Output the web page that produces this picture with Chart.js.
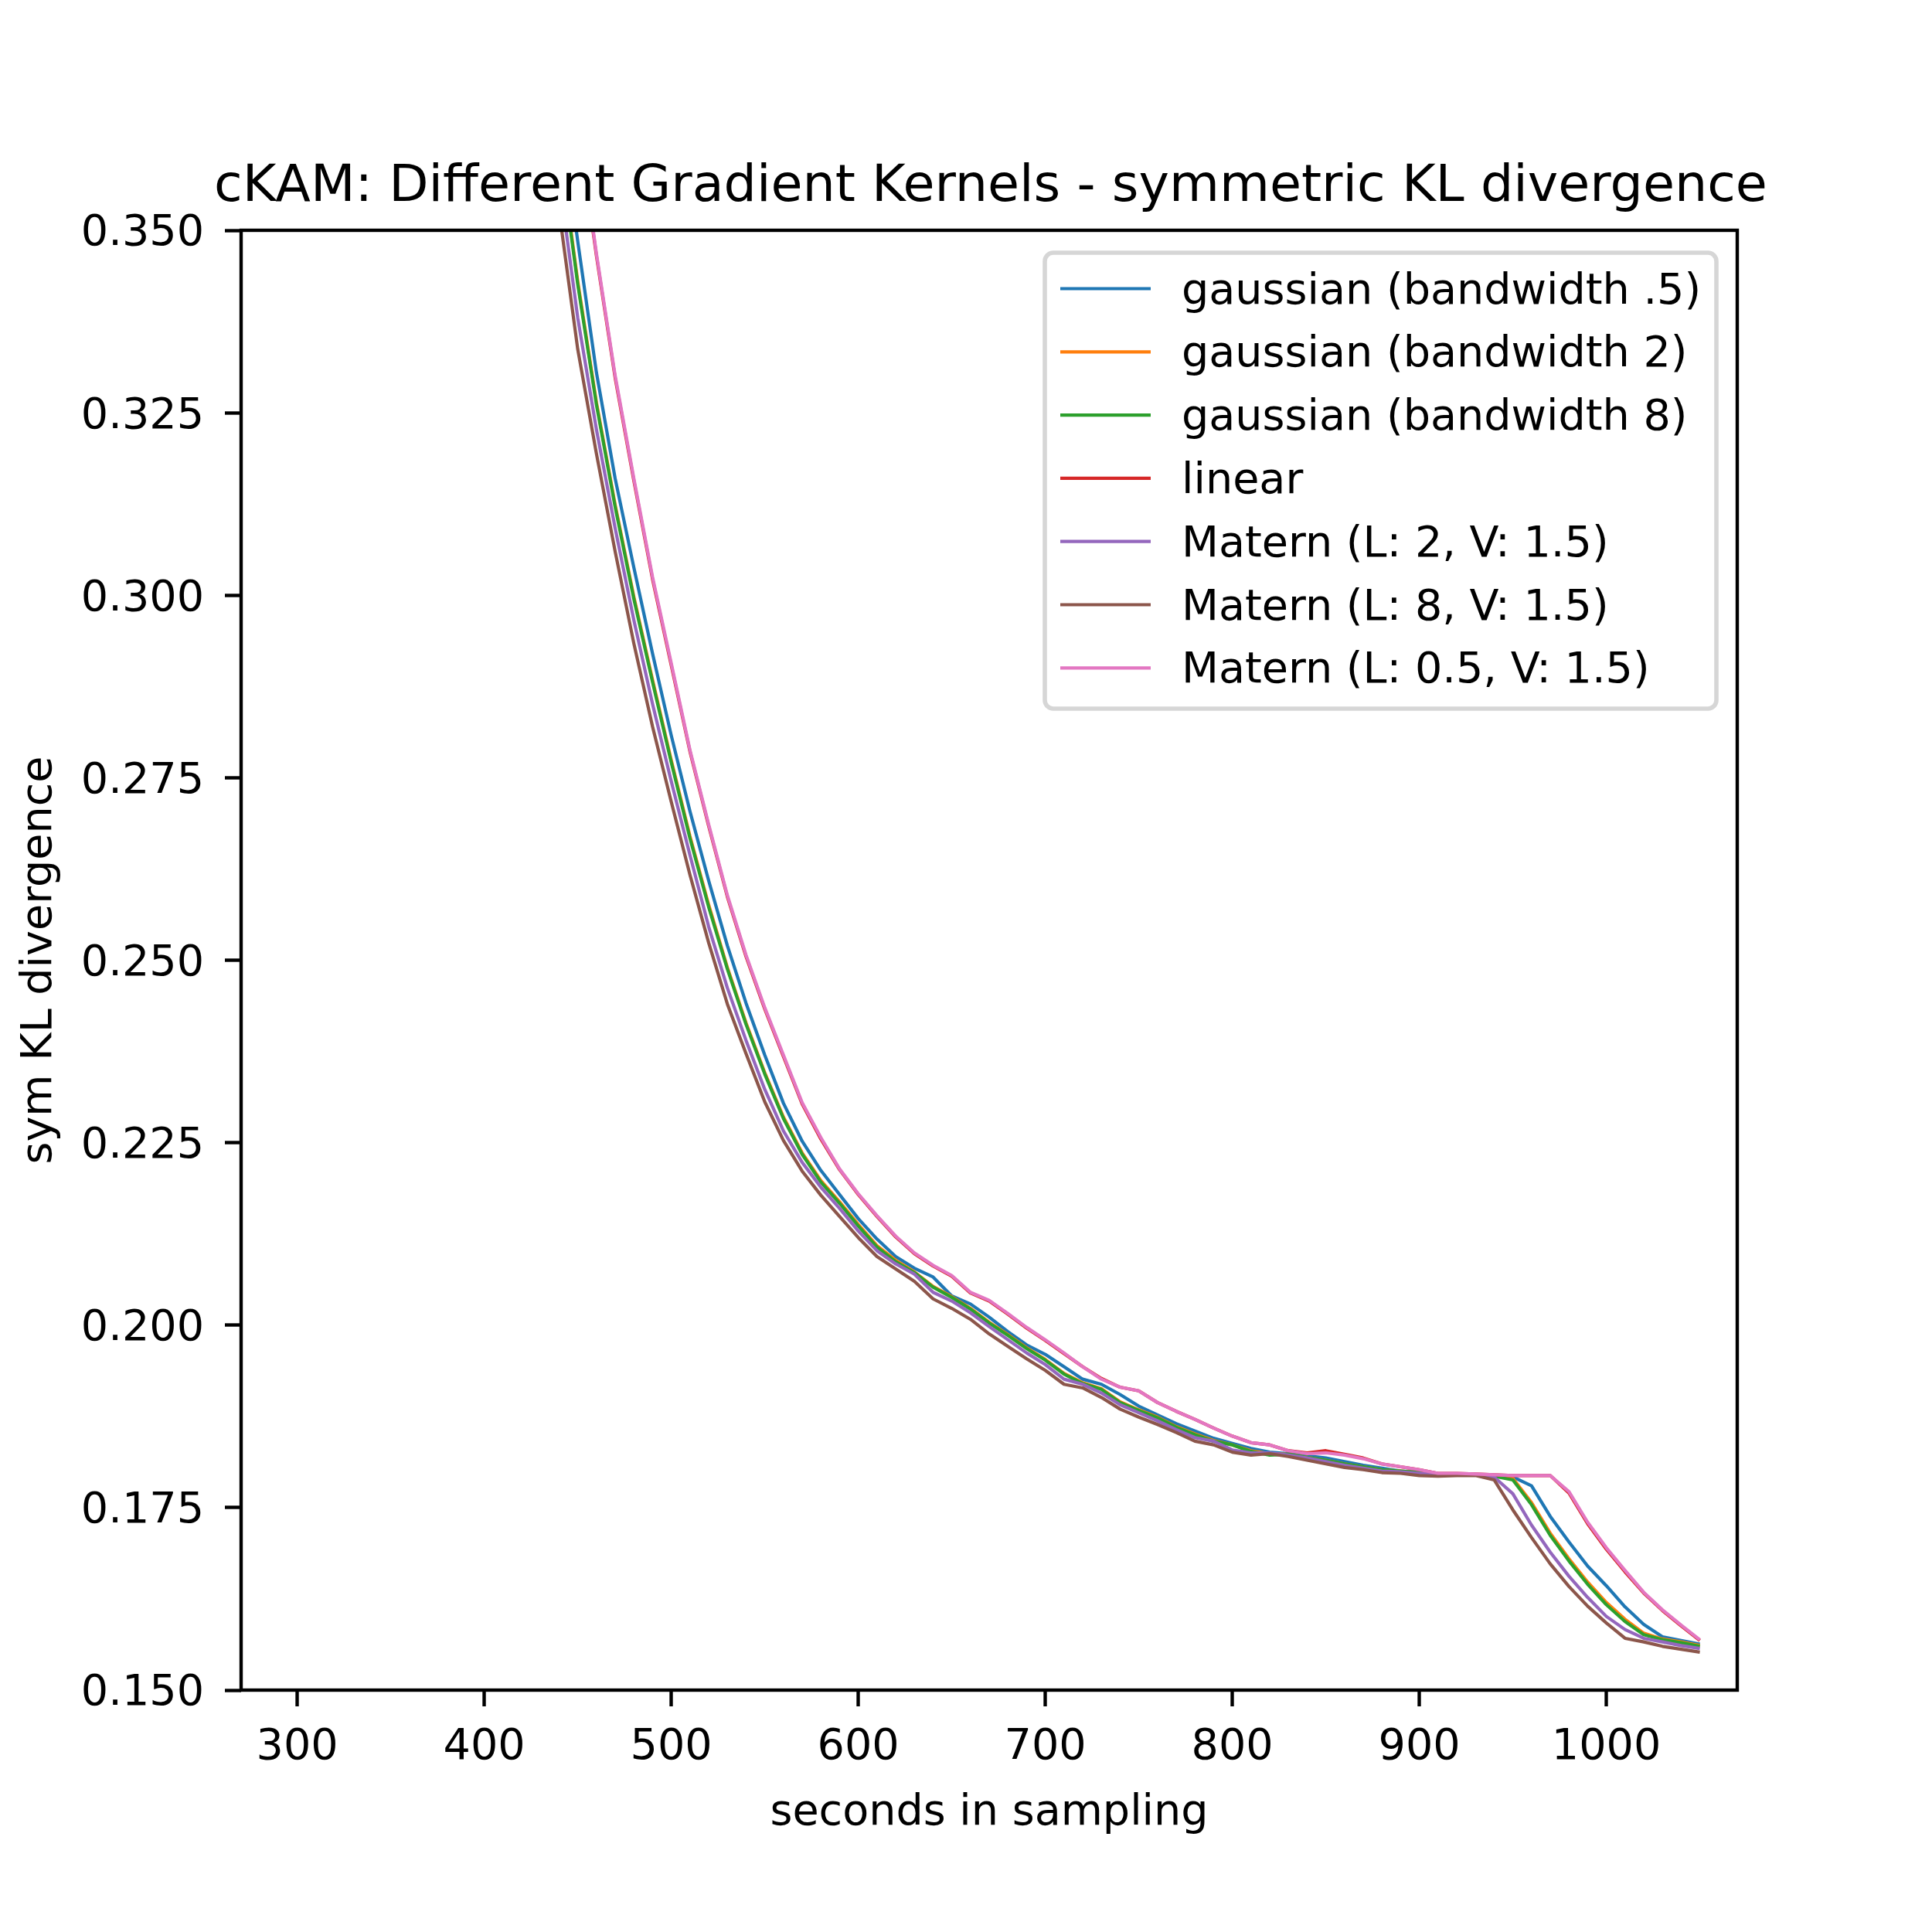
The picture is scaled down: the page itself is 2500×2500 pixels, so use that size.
<!DOCTYPE html>
<html>
<head>
<meta charset="utf-8">
<title>cKAM: Different Gradient Kernels - symmetric KL divergence</title>
<script src="https://cdn.jsdelivr.net/npm/chart.js@4"></script>
<style>
  html, body { margin: 0; padding: 0; background: #ffffff; }
  #chart { display: block; }
</style>
</head>
<body>
<canvas id="chart" width="2500" height="2500"></canvas>
<script>
// Symmetric KL divergence vs. sampling time for seven gradient kernels.
// Values, one point every 10 s.

const seconds = [
  430, 440, 450, 460, 470, 480, 490, 500, 510, 520, 530, 540, 550, 560, 570, 580,
  590, 600, 610, 620, 630, 640, 650, 660, 670, 680, 690, 700, 710, 720, 730, 740,
  750, 760, 770, 780, 790, 800, 810, 820, 830, 840, 850, 860, 870, 880, 890, 900,
  910, 920, 930, 940, 950, 960, 970, 980, 990, 1000, 1010, 1020, 1030, 1040, 1050,
];

const gaussianBw05 = [
  0.3880, 0.3675, 0.3485, 0.3305, 0.3160, 0.3038, 0.2920, 0.2808, 0.2704, 0.2609, 0.2520, 0.2441, 0.2370, 0.2304, 0.2252, 0.2212,
  0.2179, 0.2146, 0.2118, 0.2094, 0.2078, 0.2066, 0.2040, 0.2029, 0.2011, 0.1991, 0.1973, 0.1960, 0.1943, 0.1926, 0.1919, 0.1905,
  0.1889, 0.1877, 0.1865, 0.1855, 0.1845, 0.1838, 0.1831, 0.1826, 0.1824, 0.1821, 0.1818, 0.1813, 0.1808, 0.1804, 0.1800, 0.1799,
  0.1796, 0.1796, 0.1795, 0.1794, 0.1792, 0.1780, 0.1738, 0.1703, 0.1670, 0.1643, 0.1614, 0.1590, 0.1573, 0.1568, 0.1563,
];

const gaussianBw2 = [
  0.3830, 0.3622, 0.3430, 0.3264, 0.3124, 0.2998, 0.2884, 0.2774, 0.2670, 0.2576, 0.2490, 0.2414, 0.2346, 0.2285, 0.2236, 0.2198,
  0.2169, 0.2138, 0.2109, 0.2089, 0.2073, 0.2053, 0.2039, 0.2023, 0.2004, 0.1987, 0.1969, 0.1953, 0.1934, 0.1921, 0.1913, 0.1895,
  0.1884, 0.1874, 0.1861, 0.1851, 0.1842, 0.1836, 0.1828, 0.1824, 0.1823, 0.1819, 0.1815, 0.1810, 0.1806, 0.1802, 0.1800, 0.1798,
  0.1796, 0.1796, 0.1795, 0.1794, 0.1790, 0.1757, 0.1715, 0.1680, 0.1648, 0.1620, 0.1597, 0.1578, 0.1570, 0.1566, 0.1561,
];

const gaussianBw8 = [
  0.3825, 0.3618, 0.3426, 0.3261, 0.3121, 0.2995, 0.2881, 0.2771, 0.2667, 0.2573, 0.2488, 0.2412, 0.2344, 0.2283, 0.2234, 0.2196,
  0.2167, 0.2136, 0.2107, 0.2087, 0.2072, 0.2052, 0.2038, 0.2022, 0.2003, 0.1986, 0.1968, 0.1952, 0.1933, 0.1920, 0.1912, 0.1894,
  0.1883, 0.1873, 0.1860, 0.1850, 0.1841, 0.1836, 0.1827, 0.1822, 0.1823, 0.1819, 0.1815, 0.1810, 0.1806, 0.1802, 0.1800, 0.1798,
  0.1796, 0.1796, 0.1795, 0.1793, 0.1788, 0.1754, 0.1712, 0.1677, 0.1645, 0.1617, 0.1594, 0.1576, 0.1569, 0.1565, 0.1560,
];

const linearKernel = [
  0.4050, 0.3840, 0.3650, 0.3465, 0.3298, 0.3157, 0.3022, 0.2904, 0.2786, 0.2684, 0.2587, 0.2505, 0.2433, 0.2368, 0.2303, 0.2255,
  0.2213, 0.2179, 0.2149, 0.2121, 0.2098, 0.2081, 0.2067, 0.2044, 0.2033, 0.2015, 0.1996, 0.1979, 0.1961, 0.1943, 0.1927, 0.1915,
  0.1910, 0.1894, 0.1882, 0.1871, 0.1859, 0.1848, 0.1839, 0.1836, 0.1828, 0.1825, 0.1828, 0.1823, 0.1818, 0.1810, 0.1806, 0.1802,
  0.1797, 0.1797, 0.1796, 0.1795, 0.1794, 0.1794, 0.1794, 0.1770, 0.1728, 0.1693, 0.1662, 0.1633, 0.1609, 0.1588, 0.1568,
];

const maternL2 = [
  0.3775, 0.3572, 0.3380, 0.3227, 0.3092, 0.2966, 0.2851, 0.2745, 0.2644, 0.2546, 0.2462, 0.2390, 0.2323, 0.2266, 0.2223, 0.2189,
  0.2160, 0.2129, 0.2102, 0.2084, 0.2070, 0.2045, 0.2033, 0.2017, 0.1998, 0.1980, 0.1962, 0.1946, 0.1926, 0.1919, 0.1907, 0.1891,
  0.1880, 0.1869, 0.1857, 0.1846, 0.1841, 0.1829, 0.1825, 0.1825, 0.1822, 0.1818, 0.1813, 0.1808, 0.1804, 0.1800, 0.1799, 0.1797,
  0.1795, 0.1795, 0.1795, 0.1792, 0.1769, 0.1726, 0.1689, 0.1656, 0.1627, 0.1601, 0.1583, 0.1571, 0.1566, 0.1561, 0.1557,
];

const maternL8 = [
  0.3725, 0.3527, 0.3337, 0.3194, 0.3060, 0.2934, 0.2820, 0.2717, 0.2617, 0.2524, 0.2440, 0.2372, 0.2306, 0.2253, 0.2211, 0.2178,
  0.2149, 0.2120, 0.2094, 0.2077, 0.2060, 0.2036, 0.2023, 0.2008, 0.1988, 0.1971, 0.1954, 0.1938, 0.1919, 0.1914, 0.1901, 0.1885,
  0.1874, 0.1864, 0.1853, 0.1841, 0.1836, 0.1826, 0.1822, 0.1824, 0.1820, 0.1815, 0.1810, 0.1805, 0.1802, 0.1798, 0.1797, 0.1794,
  0.1793, 0.1794, 0.1794, 0.1788, 0.1747, 0.1709, 0.1673, 0.1642, 0.1615, 0.1592, 0.1571, 0.1566, 0.1560, 0.1556, 0.1552,
];

const maternL05 = [
  0.4055, 0.3845, 0.3654, 0.3468, 0.3301, 0.3160, 0.3025, 0.2907, 0.2788, 0.2686, 0.2589, 0.2507, 0.2435, 0.2370, 0.2305, 0.2257,
  0.2214, 0.2180, 0.2150, 0.2122, 0.2099, 0.2082, 0.2068, 0.2045, 0.2034, 0.2016, 0.1997, 0.1980, 0.1962, 0.1943, 0.1926, 0.1915,
  0.1910, 0.1894, 0.1882, 0.1871, 0.1859, 0.1848, 0.1839, 0.1836, 0.1828, 0.1824, 0.1825, 0.1822, 0.1817, 0.1810, 0.1806, 0.1802,
  0.1797, 0.1797, 0.1796, 0.1795, 0.1794, 0.1794, 0.1794, 0.1772, 0.1730, 0.1695, 0.1664, 0.1634, 0.1610, 0.1589, 0.1569,
];

const seriesLabels = [
  "gaussian (bandwidth .5)",
  "gaussian (bandwidth 2)",
  "gaussian (bandwidth 8)",
  "linear",
  "Matern (L: 2, V: 1.5)",
  "Matern (L: 8, V: 1.5)",
  "Matern (L: 0.5, V: 1.5)",
];
const seriesValues = [gaussianBw05, gaussianBw2, gaussianBw8, linearKernel, maternL2, maternL8, maternL05];
// matplotlib tab10
const seriesColors = ["#1f77b4", "#ff7f0e", "#2ca02c", "#d62728", "#9467bd", "#8c564b", "#e377c2"];

const xTicks = [300, 400, 500, 600, 700, 800, 900, 1000];
const yTicks = [0.150, 0.175, 0.200, 0.225, 0.250, 0.275, 0.300, 0.325, 0.350];

const FONT = "'DejaVu Sans', 'Liberation Sans', sans-serif";
const TEXT_PX = 55.6;   // 10pt at 400 dpi
const TITLE_PX = 66.7;  // 12pt

Chart.defaults.font.family = FONT;
Chart.defaults.color = "#000000";

const datasets = seriesLabels.map((label, i) => ({
  label,
  data: seconds.map((s, j) => ({ x: s, y: seriesValues[i][j] })),
  borderColor: seriesColors[i],
  backgroundColor: seriesColors[i],
  borderWidth: 4.2,
  borderJoinStyle: "round",
  pointRadius: 0,
  tension: 0,
  fill: false,
  // later series sit on top, like matplotlib
  order: seriesLabels.length - 1 - i,
}));

// frame, title and an in-axes legend in matplotlib style
const mplDecor = {
  id: "mplDecor",
  afterDatasetsDraw(chart) {
    const { ctx, chartArea: a } = chart;
    ctx.save();
    ctx.strokeStyle = "#000000";
    ctx.lineWidth = 4.4;
    ctx.strokeRect(a.left, a.top, a.right - a.left, a.bottom - a.top);
    ctx.restore();
  },
  afterDraw(chart) {
    const { ctx, chartArea: a } = chart;
    ctx.save();

    ctx.fillStyle = "#000000";
    ctx.font = `${TITLE_PX}px ${FONT}`;
    ctx.textAlign = "center";
    ctx.textBaseline = "alphabetic";
    ctx.fillText("cKAM: Different Gradient Kernels - symmetric KL divergence", (a.left + a.right) / 2 + 2, a.top - 38);

    const boxW = 869, boxH = 590;
    const left = a.right - 27 - boxW;
    const top = a.top + 29;
    ctx.beginPath();
    ctx.roundRect(left, top, boxW, boxH, 11);
    ctx.fillStyle = "rgba(255,255,255,0.8)";
    ctx.fill();
    ctx.lineWidth = 5.6;
    ctx.strokeStyle = "rgba(204,204,204,0.8)";
    ctx.stroke();

    ctx.font = `${TEXT_PX}px ${FONT}`;
    ctx.textAlign = "left";
    chart.data.datasets.forEach((ds, i) => {
      const y = top + 46.5 + i * 81.8;
      ctx.beginPath();
      ctx.moveTo(left + 20, y);
      ctx.lineTo(left + 137, y);
      ctx.strokeStyle = ds.borderColor;
      ctx.lineWidth = 4.2;
      ctx.stroke();
      ctx.fillStyle = "#000000";
      ctx.fillText(ds.label, left + 177, y + 19);
    });
    ctx.restore();
  },
};

new Chart(document.getElementById("chart"), {
  type: "line",
  data: { datasets },
  options: {
    responsive: false,
    devicePixelRatio: 1,
    animation: false,
    layout: { padding: { top: 298, right: 252, bottom: 0, left: 0 } },
    plugins: {
      legend: { display: false },
      title: { display: false },
      tooltip: { enabled: false },
    },
    scales: {
      x: {
        type: "linear",
        min: 270,
        max: 1070,
        afterFit: (scale) => { scale.height = 313; },
        afterBuildTicks: (scale) => { scale.ticks = xTicks.map((v) => ({ value: v })); },
        border: { display: false },
        grid: {
          drawOnChartArea: false,
          drawTicks: true,
          tickLength: 21,
          tickWidth: 4.4,
          tickColor: "#000000",
        },
        ticks: {
          font: { size: TEXT_PX },
          color: "#000000",
          padding: 20,
          maxRotation: 0,
          autoSkip: false,
          callback: (v) => String(v),
        },
        title: {
          display: true,
          text: "seconds in sampling",
          font: { size: TEXT_PX },
          color: "#000000",
          padding: { top: 0, bottom: 120 },
        },
      },
      y: {
        type: "linear",
        min: 0.15,
        max: 0.35,
        afterFit: (scale) => { scale.width = 312; },
        afterBuildTicks: (scale) => { scale.ticks = yTicks.map((v) => ({ value: v })); },
        border: { display: false },
        grid: {
          drawOnChartArea: false,
          drawTicks: true,
          tickLength: 21,
          tickWidth: 4.4,
          tickColor: "#000000",
        },
        ticks: {
          font: { size: TEXT_PX },
          color: "#000000",
          padding: 27,
          labelOffset: 5,
          autoSkip: false,
          callback: (v) => Number(v).toFixed(3),
        },
        title: {
          display: true,
          text: "sym KL divergence",
          font: { size: TEXT_PX },
          color: "#000000",
          padding: { top: 18, bottom: 0 },
        },
      },
    },
  },
  plugins: [mplDecor],
});
</script>
</body>
</html>
